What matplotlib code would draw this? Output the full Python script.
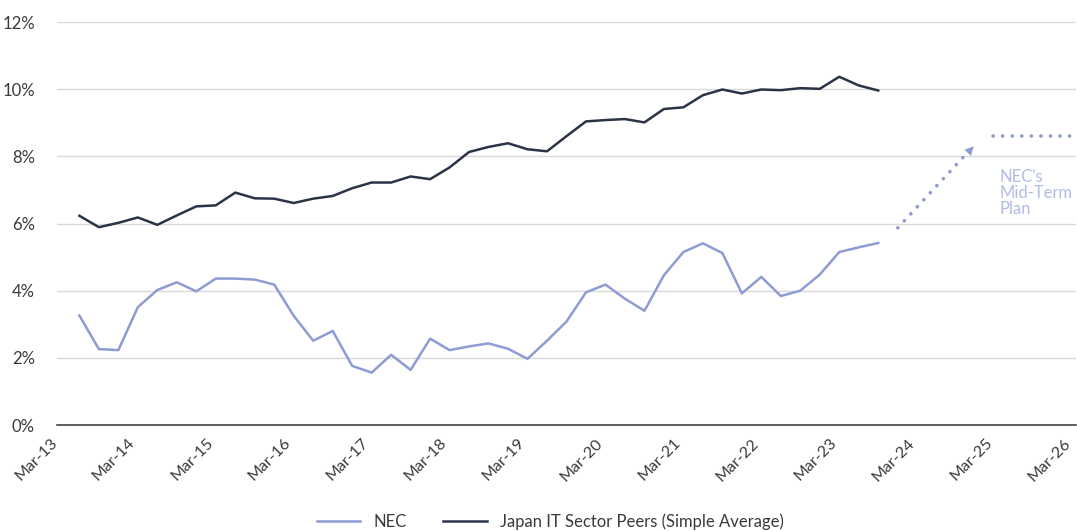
import numpy as np
import matplotlib
matplotlib.use("Agg")
import matplotlib.pyplot as plt

# ================= DATA ================= #
# quarterly points, x = quarters after Mar-13 (Jun-13 .. Sep-23)
QUARTER_IDX = list(range(1, 43))

NEC = [3.26, 2.26, 2.23, 3.51, 4.02, 4.25, 3.98, 4.36, 4.36, 4.33,
       4.18, 3.25, 2.51, 2.80, 1.76, 1.56, 2.09, 1.64, 2.57, 2.23,
       2.34, 2.43, 2.27, 1.97, 2.51, 3.08, 3.95, 4.18, 3.76, 3.40,
       4.46, 5.15, 5.41, 5.12, 3.92, 4.41, 3.84, 4.00, 4.48, 5.15,
       5.29, 5.42]

PEERS = [6.23, 5.89, 6.02, 6.18, 5.96, 6.24, 6.51, 6.54, 6.92, 6.75,
         6.74, 6.61, 6.74, 6.82, 7.05, 7.22, 7.22, 7.40, 7.32, 7.67,
         8.13, 8.28, 8.39, 8.21, 8.15, 8.60, 9.04, 9.08, 9.11, 9.01,
         9.41, 9.46, 9.82, 9.99, 9.87, 9.99, 9.97, 10.03, 10.01, 10.37,
         10.11, 9.96]

MID_TERM_TARGET = 8.6
TICK_LABELS = ["Mar-13", "Mar-14", "Mar-15", "Mar-16", "Mar-17", "Mar-18", "Mar-19",
               "Mar-20", "Mar-21", "Mar-22", "Mar-23", "Mar-24", "Mar-25", "Mar-26"]
Y_TICKS = [0, 2, 4, 6, 8, 10, 12]

# ================= STYLE ================= #
NEC_COLOR = "#8f9bd3"
PEER_COLOR = "#2b3447"
TEXT_COLOR = "#3a3a3a"

plt.rcParams["font.family"] = ["Lato", "DejaVu Sans"]

fig = plt.figure(figsize=(10.77, 5.31), dpi=100)
ax = fig.add_axes([57 / 1077, 1 - 425 / 531, (1076 - 57) / 1077, (425 - 22) / 531])

ax.plot(QUARTER_IDX, NEC, color=NEC_COLOR, lw=1.8, label="NEC")
ax.plot(QUARTER_IDX, PEERS, color=PEER_COLOR, lw=1.8,
        label="Japan IT Sector Peers (Simple Average)")

# dotted arrow towards the mid-term plan
dot_style = dict(color=NEC_COLOR, lw=2.6, linestyle=(0, (0.05, 2.6)),
                 dash_capstyle="round")
ax.plot([43.0, 46.6], [5.87, 8.12], **dot_style)
ax.annotate("", xy=(47.0, 8.36), xytext=(46.55, 8.08),
            arrowprops=dict(arrowstyle="-|>", color=NEC_COLOR, lw=0,
                            mutation_scale=16))
ax.plot([47.9, 51.9], [MID_TERM_TARGET, MID_TERM_TARGET], **dot_style)
ax.text(48.2, 7.62, "NEC's\nMid-Term\nPlan", color="#b3bce3", fontsize=12,
        va="top", ha="left", linespacing=1.0)

# axes
ax.set_xlim(-0.15, 52.15)
ax.set_ylim(0, 12)
ax.set_xticks(range(0, 53, 4))
ax.set_xticklabels(TICK_LABELS, rotation=45, ha="right", va="bottom",
                   rotation_mode="anchor", fontsize=11.5, color=TEXT_COLOR)
ax.set_yticks(Y_TICKS)
ax.set_yticklabels([f"{v}%" for v in Y_TICKS], fontsize=12, color=TEXT_COLOR)
ax.tick_params(axis="both", length=0)
ax.tick_params(axis="x", pad=15)
ax.tick_params(axis="y", pad=16)

ax.grid(axis="y", color="#d9d9d9", lw=1)
ax.set_axisbelow(True)
for s in ["top", "right", "left"]:
    ax.spines[s].set_visible(False)
ax.spines["bottom"].set_color("#444444")
ax.spines["bottom"].set_linewidth(1.2)
ax.spines["bottom"].set_zorder(3)

fig.legend(loc="center", bbox_to_anchor=(0.511, 1 - 522 / 531), ncol=2,
           frameon=False, fontsize=12, handlelength=2.6, columnspacing=2.2,
           labelcolor=TEXT_COLOR)

fig.savefig("out.png", dpi=100)
